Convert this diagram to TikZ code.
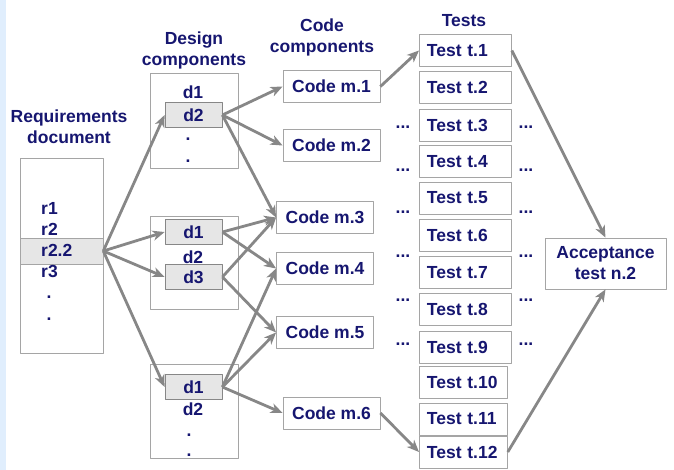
\documentclass[tikz,border=0pt]{standalone}
\usepackage{fontspec}
\setmainfont{Liberation Sans}
\usetikzlibrary{arrows.meta}
\definecolor{navy}{RGB}{22,22,112}
\definecolor{boxgray}{RGB}{165,165,165}
\definecolor{arrgray}{RGB}{135,135,135}
\definecolor{hlgray}{RGB}{230,230,230}
\definecolor{stripblue}{RGB}{224,238,253}
\begin{document}
\begin{tikzpicture}[x=1pt, y=-1pt, font=\fontsize{17.5}{21}\selectfont\bfseries, line join=round,
	txt/.style={text=navy, inner sep=0pt},
	frame/.style={draw=boxgray, line width=.8pt, fill=white},
	comp/.style={frame, text=navy, minimum height=32pt, inner sep=0pt},
	hl/.style={draw=arrgray, fill=hlgray, line width=.8pt, text=navy, minimum width=57pt, minimum height=25pt, inner sep=0pt},
	arr/.style={draw=arrgray, line width=2.8pt, -{Stealth[length=12pt,width=10pt,inset=3.5pt]}}]
	\useasboundingbox (0,0) rectangle (674,470);
	\fill[stripblue] (0,0) rectangle (6,470);
	% titles
	\node[txt, align=center] (reqT) at (69,126.5) {Requirements\\document};
	\node[txt, align=center] (desT) at (194,50) {Design\\components};
	\node[txt, align=center] (codT) at (322,37) {Code\\components};
	\node[txt] (tstT) at (464,21) {Tests};
	% requirements document
	\node[frame, minimum width=83pt, minimum height=195pt, inner sep=0pt] (req) at (61.5,255.5) {};
	\node[draw=boxgray, fill=hlgray, line width=.6pt, minimum width=83pt, minimum height=26pt, inner sep=0pt] (r22) at (61.5,251) {};
	\foreach \t/\y [count=\i] in {r1/208, r2/229, r2.2/250, r3/271} \node[txt, anchor=west] (ri\i) at (41,\y) {\t};
	\foreach \y [count=\i] in {297,319} \node[txt, anchor=base] (rd\i) at (49,\y+1) {.};
	% design components
	\foreach \n/\y/\h in {dA/120.5/95, dB/262.5/93, dC/411/94} \node[frame, minimum width=88pt, minimum height=\h pt] (\n) at (194,\y) {};
	\node[hl] (d2A) at (193.5,115) {d2};
	\node[hl] (d1B) at (193.5,232) {d1};
	\node[hl] (d3B) at (193.5,277) {d3};
	\node[hl] (d1C) at (193.5,387) {d1};
	\node[txt] (d1A) at (193,92) {d1};
	\node[txt] (d2B) at (193,257) {d2};
	\node[txt] (d2C) at (193,409) {d2};
	\foreach \x/\y [count=\i] in {188/140, 188/162, 189/435, 189/455} \node[txt, anchor=base] (dd\i) at (\x,\y+1) {.};
	% code components
	\foreach \x/\y [count=\i] in {331.5/86.5, 331.5/145.5, 325/217.5, 325/268.5, 325/332.5, 331.5/413} \node[comp, minimum width=97pt] (m\i) at (\x,\y) {Code m.\i};
	% tests
	\foreach \y [count=\i] in {50.5,87,125,161.5,198,235,272.5,309.5,347,382.5,419,452} {
		\pgfmathsetmacro\w{\i>9 ? 73 : 77}
		\node[comp, anchor=west, inner xsep=7.5pt, text width=\w pt, align=left] (t\i) at (419,\y) {Test t.\i};
	}
	\foreach \y [count=\i] in {128,171,213,257,300,344} {
		\node[txt, anchor=base] (dl\i) at (403,\y+1) {...};
		\node[txt, anchor=base] (dr\i) at (526,\y+1) {...};
	}
	\node[comp, minimum width=121pt, minimum height=51pt, align=center] (acc) at (605.5,263.5) {Acceptance\\test n.2};
	% links
	\foreach \d in {d2A,d1B,d3B,d1C} \draw[arr] (r22.east) -- (\d.west);
	\foreach \a/\b in {d2A/m1,d2A/m2,d2A/m3,d1B/m3,d1B/m4,d3B/m3,d3B/m5,d1C/m4,d1C/m5,d1C/m6,m1/t1,m6/t12} \draw[arr] (\a.east) -- (\b.west);
	\draw[arr] (t1.east) -- (acc.north);
	\draw[arr] (t12.east) -- (acc.south);
\end{tikzpicture}
\end{document}
